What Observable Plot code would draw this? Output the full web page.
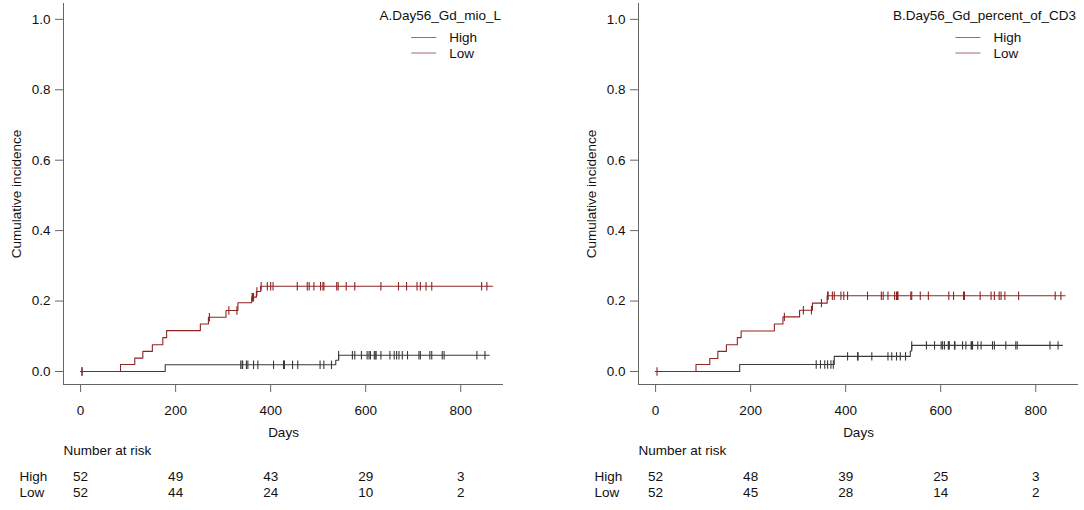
<!DOCTYPE html>
<html>
<head>
<meta charset="utf-8">
<script src="https://cdn.jsdelivr.net/npm/d3@7"></script>
<script src="https://cdn.jsdelivr.net/npm/@observablehq/plot@0.6"></script>
<style>
  html, body { margin: 0; padding: 0; background: #fff; overflow: hidden; }
  #wrap { position: relative; width: 1084px; height: 510px; overflow: hidden; }
  .panel { position: absolute; top: 0; width: 540px; height: 510px; }
  .panel svg { max-width: none !important; }
</style>
</head>
<body>
<div id="wrap">
  <div class="panel" id="pA" style="left:0px"></div>
  <div class="panel" id="pB" style="left:575px"></div>
</div>
<script>
// ---------- data ----------
const xTicks = [0, 200, 400, 600, 800];
const yTicks = [0, 0.2, 0.4, 0.6, 0.8, 1.0];
const xDomain = [-36, 890];
const yDomain = [-0.037, 1.045];
const groupNames = ["High", "Low"];

// Panel A: Day56_Gd_mio_L
const aTitle = "A.Day56_Gd_mio_L";
const aHighTimes = [0, 178, 537, 543];
const aHighCI    = [0, 0.019, 0.032, 0.046];
const aHighEnd   = 860;
const aHighCens  = [3, 337, 340, 341, 349, 352, 364, 373, 406, 427, 428, 429, 446, 457, 504, 512, 528,
                    543, 572, 577, 591, 603, 607, 610, 618, 620, 622, 632, 651, 660, 665, 670, 677, 688,
                    712, 715, 735, 739, 761, 765, 834, 851];
const aLowTimes  = [0, 84, 114, 131, 151, 173, 181, 252, 269, 306, 331, 360, 370, 379];
const aLowCI     = [0, 0.02, 0.038, 0.057, 0.076, 0.096, 0.116, 0.135, 0.154, 0.173, 0.195, 0.211, 0.227, 0.242];
const aLowEnd    = 867;
const aLowCens   = [3, 271, 312, 329, 361, 362, 363, 364, 371, 380, 393, 400, 405, 456, 477, 481, 491, 505,
                    510, 512, 539, 542, 559, 577, 632, 669, 686, 708, 715, 727, 739, 844, 855];
const aRiskHigh  = [52, 49, 43, 29, 3];
const aRiskLow   = [52, 44, 24, 10, 2];

// Panel B: Day56_Gd_percent_of_CD3
const bTitle = "B.Day56_Gd_percent_of_CD3";
const bHighTimes = [0, 177, 376, 536, 539];
const bHighCI    = [0, 0.02, 0.043, 0.058, 0.074];
const bHighEnd   = 856;
const bHighCens  = [338, 347, 356, 362, 369, 374, 404, 425, 426, 455, 489, 497, 507, 515, 526, 539, 570, 587,
                    601, 604, 608, 616, 617, 618, 629, 630, 646, 653, 664, 665, 667, 678, 685, 709, 713, 737,
                    758, 761, 830, 847];
const bLowTimes  = [0, 85, 114, 131, 149, 172, 180, 250, 268, 303, 330, 361];
const bLowCI     = [0, 0.02, 0.037, 0.057, 0.076, 0.096, 0.115, 0.135, 0.155, 0.174, 0.194, 0.215];
const bLowEnd    = 862;
const bLowCens   = [3, 271, 311, 328, 349, 362, 363, 372, 376, 390, 396, 404, 446, 475, 479, 489, 503, 507,
                    509, 510, 537, 539, 557, 574, 617, 627, 648, 650, 683, 706, 713, 723, 727, 735, 764, 841, 853];
const bRiskHigh  = [52, 48, 39, 25, 3];
const bRiskLow   = [52, 45, 28, 14, 2];

// ---------- styles ----------
const colHigh = "#3a3a3a";
const colLow = "#8e2424";
const axisCol = "#666666";
const textCol = "#111111";
const font = "Liberation Sans, Arial, sans-serif";
const fs = 13.5;

function stepValue(times, ci, t) {
  let v = 0;
  for (let i = 0; i < times.length; i++) if (times[i] <= t) v = ci[i];
  return v;
}
function curve(group, times, ci, end) {
  const pts = times.map((t, i) => ({group, t, v: ci[i]}));
  pts.push({group, t: end, v: ci[ci.length - 1]});
  return pts;
}
function censors(group, times, ci, cens) {
  return cens.map(t => ({group, t, v: stepValue(times, ci, t)}));
}
const vbar = {
  draw(ctx, size) {
    const r = Math.sqrt(size / Math.PI);
    ctx.moveTo(0, -r); ctx.lineTo(0, r);
  }
};

function panel(el, title, H, L, riskH, riskL) {
  const lines = [
    ...curve("High", H.times, H.ci, H.end),
    ...curve("Low", L.times, L.ci, L.end)
  ];
  const marks = [
    ...censors("High", H.times, H.ci, H.cens),
    ...censors("Low", L.times, L.ci, L.cens)
  ];
  const idx = xTicks.map((d, i) => i);
  const plot = Plot.plot({
    width: 540,
    height: 510,
    marginLeft: 63,
    marginRight: 37,
    marginTop: 3,
    marginBottom: 126,
    style: {fontFamily: font, fontSize: fs + "px", color: textCol, background: "white", overflow: "visible", maxWidth: "none"},
    x: {domain: xDomain},
    y: {domain: yDomain},
    color: {domain: groupNames, range: [colHigh, colLow]},
    marks: [
      Plot.ruleX([xDomain[0]], {stroke: axisCol}),
      Plot.ruleY([yDomain[0]], {stroke: axisCol}),
      Plot.axisX({ticks: xTicks, tickSize: 8, tickPadding: 13, stroke: axisCol, fill: textCol, label: null, fontSize: fs}),
      Plot.axisY({ticks: yTicks, tickSize: 8, tickPadding: 5, stroke: axisCol, fill: textCol, label: null, fontSize: fs,
                  tickFormat: d3.format(".1f")}),
      Plot.line(lines, {x: "t", y: "v", z: "group", stroke: "group", curve: "step-after", strokeWidth: 1.1}),
      Plot.dot(marks, {x: "t", y: "v", stroke: "group", symbol: vbar, r: 4.2, strokeWidth: 1.1, fill: "none"}),
      Plot.text(["Days"], {frameAnchor: "bottom", dy: 52, fill: textCol, fontSize: fs}),
      Plot.text(["Cumulative incidence"], {frameAnchor: "left", textAnchor: "middle", rotate: -90, dx: -47, fill: textCol, fontSize: fs}),
      Plot.text(["Number at risk"], {frameAnchor: "bottom-left", textAnchor: "start", dy: 70, fill: textCol, fontSize: fs}),
      Plot.text([groupNames[0]], {frameAnchor: "bottom-left", textAnchor: "start", dx: -44, dy: 96, fill: textCol, fontSize: fs}),
      Plot.text([groupNames[1]], {frameAnchor: "bottom-left", textAnchor: "start", dx: -44, dy: 112.5, fill: textCol, fontSize: fs}),
      Plot.text(idx, {x: i => xTicks[i], text: i => String(riskH[i]), frameAnchor: "bottom", dy: 96, fill: textCol, fontSize: fs}),
      Plot.text(idx, {x: i => xTicks[i], text: i => String(riskL[i]), frameAnchor: "bottom", dy: 112.5, fill: textCol, fontSize: fs})
    ]
  });
  el.appendChild(plot);

  // legend (top-right of frame)
  const svg = d3.select(plot);
  const g = svg.append("g").attr("font-family", font).attr("font-size", fs).attr("fill", textCol);
  const right = 540 - 37 - 2;
  const t = g.append("text").attr("x", right).attr("y", 15).attr("dy", "0.35em")
    .attr("text-anchor", "end").text(title);
  const w = t.node().getComputedTextLength();
  const cx = right - w / 2;
  const items = [{name: groupNames[0], col: "#7a7a7a", y: 37.5}, {name: groupNames[1], col: "#a86868", y: 53}];
  items.forEach(it => {
    g.append("line").attr("x1", cx - 29).attr("x2", cx - 4).attr("y1", it.y).attr("y2", it.y)
      .attr("stroke", it.col).attr("stroke-width", 1);
    g.append("text").attr("x", cx + 9).attr("y", it.y).attr("dy", "0.35em")
      .attr("text-anchor", "start").text(it.name);
  });
}

panel(document.getElementById("pA"), aTitle,
  {times: aHighTimes, ci: aHighCI, end: aHighEnd, cens: aHighCens},
  {times: aLowTimes, ci: aLowCI, end: aLowEnd, cens: aLowCens},
  aRiskHigh, aRiskLow);
panel(document.getElementById("pB"), bTitle,
  {times: bHighTimes, ci: bHighCI, end: bHighEnd, cens: bHighCens},
  {times: bLowTimes, ci: bLowCI, end: bLowEnd, cens: bLowCens},
  bRiskHigh, bRiskLow);
</script>
</body>
</html>
